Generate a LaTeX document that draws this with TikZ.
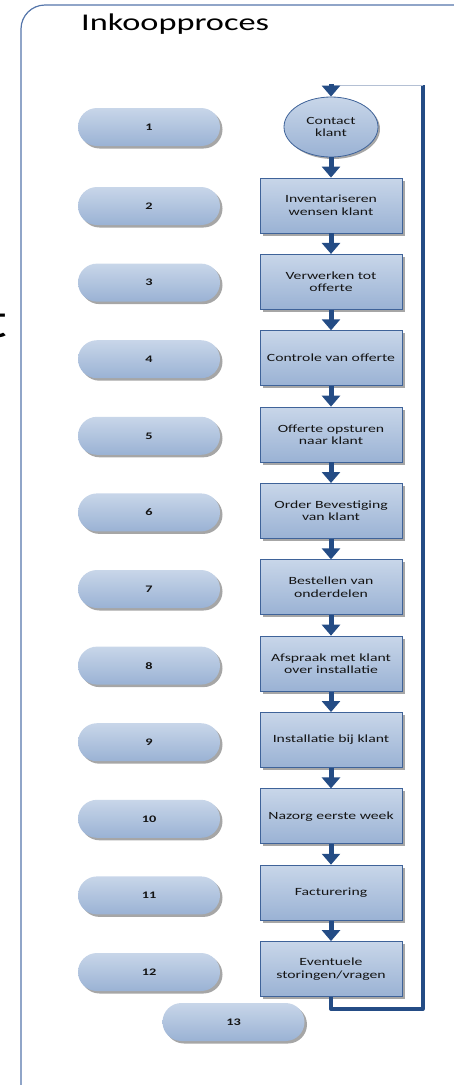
\documentclass[tikz,border=0pt]{standalone}
\usepackage{fontspec}
\setmainfont{Carlito}[FakeStretch=1.43]
\usetikzlibrary{arrows.meta,shapes.geometric,shadows}
\definecolor{filltop}{HTML}{C8D6E9}
\definecolor{fillbot}{HTML}{9AB2D4}
\definecolor{boxborder}{HTML}{3F6399}
\definecolor{arrowblue}{HTML}{244C85}
\definecolor{framecol}{HTML}{5475AA}
\definecolor{thinline}{HTML}{B4C0D4}
\definecolor{shadowgray}{HTML}{A6A6A6}
\definecolor{txt}{HTML}{141414}
\tikzset{
  procbox/.style={rectangle, draw=boxborder, line width=0.8pt, top color=filltop, bottom color=fillbot,
    minimum width=142pt, minimum height=55pt, inner sep=1pt, align=center, text=txt,
    font=\fontsize{11}{12.5}\selectfont,
    drop shadow={shadow xshift=2.5pt, shadow yshift=-2.5pt, fill=shadowgray, opacity=1}},
  startnode/.style={ellipse, draw=boxborder, line width=0.8pt, top color=filltop, bottom color=fillbot,
    minimum width=94pt, minimum height=60pt, inner sep=0pt, align=center, text=txt,
    font=\fontsize{11}{12.5}\selectfont,
    drop shadow={shadow xshift=2pt, shadow yshift=-2pt, fill=shadowgray, opacity=1}},
  pill/.style={rectangle, rounded corners=19pt, minimum width=142pt, minimum height=38pt,
    top color=filltop, bottom color=fillbot, draw=none, inner sep=0pt, text=txt,
    font=\fontsize{10}{12}\selectfont\bfseries,
    drop shadow={shadow xshift=2.5pt, shadow yshift=-2.5pt, fill=shadowgray, opacity=1}},
  flow/.style={draw=arrowblue, line width=5pt, -{Triangle[width=18pt,length=11pt]}},
  loopline/.style={draw=arrowblue, line width=4pt, line join=round},
}
\begin{document}
\begin{tikzpicture}[x=1pt,y=-1pt]
\useasboundingbox (0,0) rectangle (453,1085);
% frame
\draw[framecol, line width=1.2pt, rounded corners=24pt] (21,1090) -- (21,5) -- (460,5);
% partial letter at left
\node[anchor=base east, inner sep=0pt, font=\fontsize{50}{50}\selectfont, text=black] (tfrag) at (7.5,337) {t};
% title
\node[anchor=base west, inner sep=0pt, font=\fontsize{24}{26}\selectfont, text=black] (title) at (81,30.7) {Inkoopproces};
% process column
\node[startnode] (c1) at (331,127) {Contact\\klant};
\node[procbox] (b2) at (331,205.5) {Inventariseren\\wensen klant};
\node[procbox] (b3) at (331,281.85) {Verwerken tot\\offerte};
\node[procbox] (b4) at (331,358.2) {Controle van offerte};
\node[procbox] (b5) at (331,434.55) {Offerte opsturen\\naar klant};
\node[procbox] (b6) at (331,510.9) {Order Bevestiging\\van klant};
\node[procbox] (b7) at (331,587.25) {Bestellen van\\onderdelen};
\node[procbox] (b8) at (331,663.6) {Afspraak met klant\\over installatie};
\node[procbox] (b9) at (331,739.95) {Installatie bij klant};
\node[procbox] (b10) at (331,816.3) {Nazorg eerste week};
\node[procbox] (b11) at (331,892.65) {Facturering};
\node[procbox] (b12) at (331,969) {Eventuele\\storingen/vragen};
% pills
\node[pill] (p1) at (149,127) {1};
\node[pill] (p2) at (149,206) {2};
\node[pill] (p3) at (149,282.6) {3};
\node[pill] (p4) at (149,359.2) {4};
\node[pill] (p5) at (149,435.8) {5};
\node[pill] (p6) at (149,512.4) {6};
\node[pill] (p7) at (149,589) {7};
\node[pill] (p8) at (149,665.6) {8};
\node[pill] (p9) at (149,742.2) {9};
\node[pill] (p10) at (149,818.8) {10};
\node[pill] (p11) at (149,895.4) {11};
\node[pill] (p12) at (149,972) {12};
\node[pill] (p13) at (233.5,1022) {13};
% arrows
\draw[flow] (c1) -- (b2);
\draw[flow] (b2) -- (b3);
\draw[flow] (b3) -- (b4);
\draw[flow] (b4) -- (b5);
\draw[flow] (b5) -- (b6);
\draw[flow] (b6) -- (b7);
\draw[flow] (b7) -- (b8);
\draw[flow] (b8) -- (b9);
\draw[flow] (b9) -- (b10);
\draw[flow] (b10) -- (b11);
\draw[flow] (b11) -- (b12);
% loop back
\coordinate (lb) at (331,1009);
\coordinate (rb) at (422.5,1009);
\coordinate (rt) at (422.5,85);
\coordinate (tt) at (331,85);
\draw[loopline] (b12.south) -- (lb) -- (rb) -- (rt);
\draw[thinline, line width=0.8pt] (rt) -- (tt);
\draw[flow] ([yshift=1pt]tt) -- (c1.north);
\end{tikzpicture}
\end{document}
